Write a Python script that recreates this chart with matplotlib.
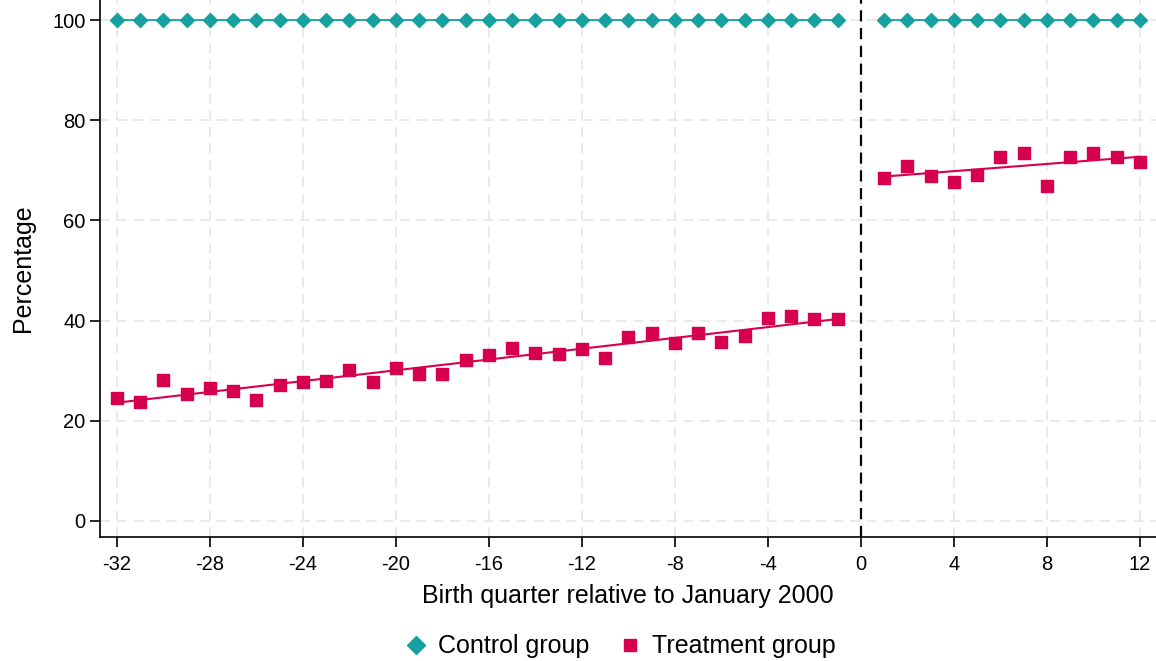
import matplotlib.pyplot as plt
import numpy as np

plt.rcParams['font.family'] = ['Liberation Sans', 'DejaVu Sans']
plt.rcParams['axes.unicode_minus'] = False

# birth quarters relative to January 2000 (quarter 0 omitted)
pre_q = np.arange(-32, 0)
post_q = np.arange(1, 13)

treat_pre = [24.5, 23.8, 28.1, 25.3, 26.5, 25.9, 24.1, 27.1, 27.7, 27.9,
             30.1, 27.7, 30.5, 29.3, 29.3, 32.1, 33.1, 34.5, 33.5, 33.3,
             34.3, 32.5, 36.7, 37.5, 35.5, 37.5, 35.7, 36.9, 40.5, 40.9,
             40.3, 40.3]
treat_post = [68.5, 70.9, 68.9, 67.7, 69.1, 72.7, 73.5, 66.9, 72.7, 73.5,
              72.7, 71.7]
control_pre = [100.0] * len(pre_q)
control_post = [100.0] * len(post_q)

xticks = [-32, -28, -24, -20, -16, -12, -8, -4, 0, 4, 8, 12]
yticks = [0, 20, 40, 60, 80, 100]

teal = '#16a0a0'
crimson = '#d6004f'

fig = plt.figure(figsize=(11.56, 6.61), dpi=100)
ax = fig.add_axes([0.0865, 0.1876, 0.9135, 0.8124])

ax.grid(True, color='#e6e6e6', linestyle=(0, (6, 4)), linewidth=1.2)
ax.set_axisbelow(True)

# control group: flat at 100
for q, v in [(pre_q, control_pre), (post_q, control_post)]:
    ax.plot(q, v, color=teal, lw=1.3, marker='D', ms=7.5, mec=teal, mfc=teal,
            zorder=3)

# treatment group: points plus a linear fit on each side of the cutoff
for q, v in [(pre_q, treat_pre), (post_q, treat_post)]:
    ax.scatter(q, v, marker='s', s=64, color=crimson, zorder=3)
    b, a = np.polyfit(q, v, 1)
    ax.plot(q, a + b * q, color=crimson, lw=1.5, zorder=2)

ax.axvline(0, color='black', linestyle=(0, (5, 3)), lw=1.6, zorder=4)

ax.set_xlim(-32.73, 12.69)
ax.set_ylim(-3.2, 104.0)
ax.set_xticks(xticks)
ax.set_yticks(yticks)
ax.tick_params(axis='both', direction='out', length=7, width=1.2,
               labelsize=14.5, colors='black')
ax.tick_params(axis='x', pad=6)

for s in ['top', 'right']:
    ax.spines[s].set_visible(False)
for s in ['left', 'bottom']:
    ax.spines[s].set_linewidth(1.2)

ax.set_ylabel('Percentage', fontsize=18, labelpad=12)
ax.set_xlabel('Birth quarter relative to January 2000', fontsize=18,
              labelpad=7)

handles = [
    plt.Line2D([], [], ls='none', marker='D', ms=9, color=teal),
    plt.Line2D([], [], ls='none', marker='s', ms=9, color=crimson),
]
fig.legend(handles, ['Control group', 'Treatment group'], loc='lower center',
           bbox_to_anchor=(0.535, -0.03), ncol=2, frameon=False, fontsize=18,
           handletextpad=0.3, columnspacing=1.0, handlelength=1.2)

fig.savefig('out.png', dpi=100)
